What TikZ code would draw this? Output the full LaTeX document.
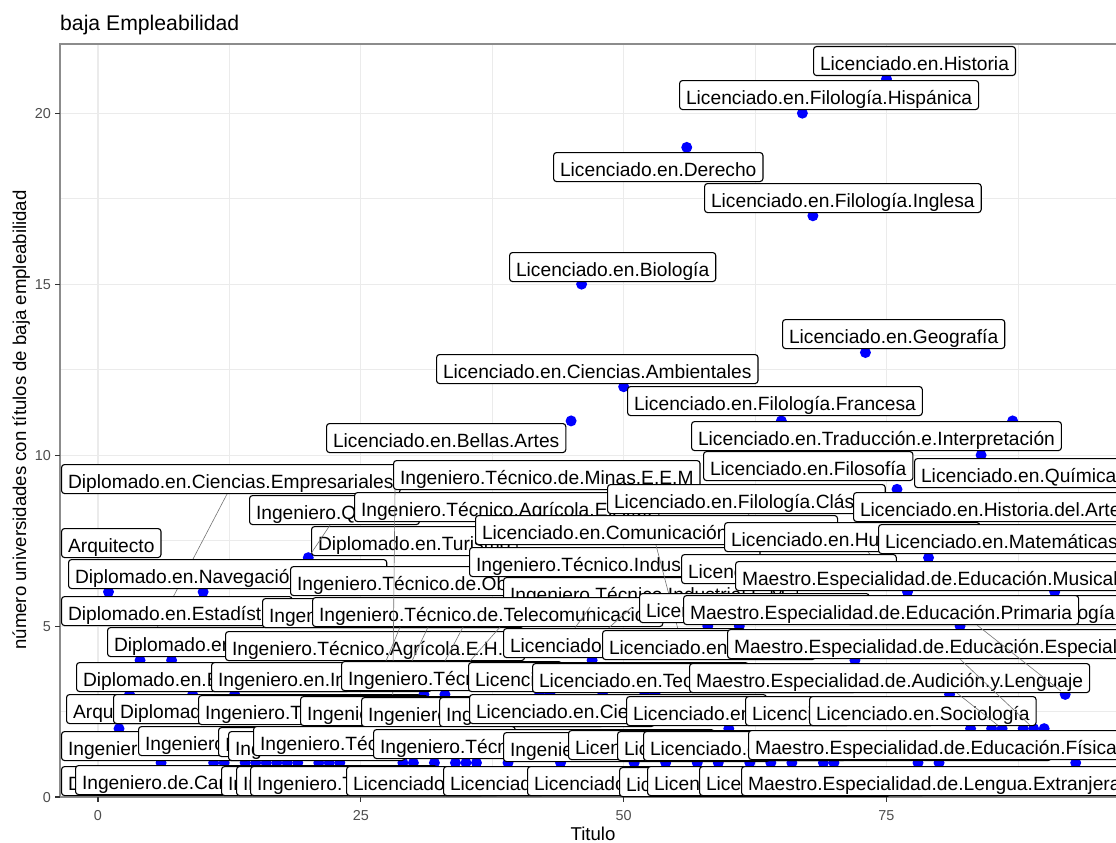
\documentclass[tikz,border=0pt]{standalone}
\usepackage{fontspec}
\setmainfont{Liberation Sans}
\definecolor{gridc}{HTML}{EBEBEB}
\definecolor{tickc}{HTML}{4D4D4D}
\definecolor{bordc}{HTML}{333333}
\definecolor{panelb}{HTML}{8C8C8C}
\begin{document}
\begin{tikzpicture}[x=1pt,y=-1pt,
 lbl/.style={draw=black,fill=white,line width=1.1pt,rounded corners=3pt,anchor=north west,inner xsep=6.5pt,inner ysep=0pt,text height=24pt,text depth=5pt,font=\fontsize{19.2}{22}\selectfont},
 lblr/.style={lbl,anchor=north east},
 dotst/.style={circle,fill=blue,draw=none,inner sep=0pt,minimum size=11pt},
 seg/.style={draw=black!55,line width=0.6pt},
 gmaj/.style={draw=gridc,line width=1.1pt},
 gmin/.style={draw=gridc,line width=0.55pt},
 ticklab/.style={text=tickc,font=\fontsize{14.4}{16}\selectfont,inner sep=0pt},
 axtitle/.style={font=\fontsize{18.6}{21}\selectfont,inner sep=0pt}
]
\useasboundingbox (0,0) rectangle (1116,843);
\clip (0,0) rectangle (1116,843);
% grid
\begin{scope}
\clip (60,44) rectangle (1126,797);
\foreach \v in {2.5,7.5,12.5,17.5} \draw[gmin] (60,{797-34.19*\v}) -- (1126,{797-34.19*\v});
\foreach \v in {12.5,37.5,62.5,87.5} \draw[gmin] ({98+10.513*\v},44) -- ({98+10.513*\v},797);
\foreach \v in {0,5,10,15,20} \draw[gmaj] (60,{797-34.19*\v}) -- (1126,{797-34.19*\v});
\foreach \v in {0,25,50,75} \draw[gmaj] ({98+10.513*\v},44) -- ({98+10.513*\v},797);
\end{scope}
% panel border and ticks
\draw[panelb,line width=1.1pt] (60,44) rectangle (1126,797);
\foreach \v in {0,5,10,15,20} \draw[bordc,line width=1.1pt] (55,{797-34.19*\v}) -- (60,{797-34.19*\v});
\foreach \v in {0,25,50,75} \draw[bordc,line width=1.1pt] ({98+10.513*\v},797) -- ({98+10.513*\v},802);
% axis texts
\foreach \v in {0,5,10,15,20} \node[ticklab,anchor=east,text height=10pt,text depth=0pt] (ty\v) at (51,{797-34.19*\v}) {\v};
\foreach \v in {0,25,50,75} \node[ticklab,anchor=base] (tx\v) at ({98+10.513*\v},820) {\v};
\node[axtitle,anchor=base] (xtitle) at (593,840) {Titulo};
\node[axtitle,anchor=base,rotate=90] (ytitle) at (26,420) {número universidades con títulos de baja empleabilidad};
\node[font=\fontsize{21.2}{24}\selectfont,anchor=base west,inner sep=0pt] (title) at (60,31) {baja Empleabilidad};
% points
\foreach \a/\b in {75/21,67/20,56/19,68/17,46/15,73/13,50/12,45/11,65/11,87/11,84/10,76/9,20/7,79/7,1/6,10/6,77/6,91/6,58/5,61/5,82/5,4/4,7/4,47/4,72/4,3/3,9/3,13/3,31/3,33/3,42/3,43/3,48/3,52/3,53/3,81/3,92/3,2/2,28/2,60/2,83/2,85/2,86/2,88/2,89/2,90/2,6/1,11/1,12/1,14/1,15/1,16/1,17/1,18/1,19/1,21/1,22/1,23/1,29/1,30/1,32/1,34/1,35/1,36/1,39/1,44/1,51/1,54/1,57/1,59/1,62/1,64/1,66/1,69/1,70/1,78/1,80/1,93/1}
  \node[dotst] (p\a-\b) at ({98+10.513*\a},{797-34.19*\b}) {};
% ---- Arquitecto / Diplomado labels
\node[lbl] (C1) at (61,528) {Arquitecto};
\node[lbl] (G1) at (66,694) {Arquitecto.Técnico};
\node[lbl] (F1) at (76,662) {Diplomado.en.Biblioteconomía};
\node[lbl] (B1) at (61,464) {Diplomado.en.Ciencias.Empresariales};
\draw[seg] ([xshift=166pt]B1.south west) -- (p4-4);
\node[lbl] (I1) at (61,766) {Diplomado.en.Educación.Social};
\node[lbl] (D7) at (61,596) {Diplomado.en.Estadística};
\node[lbl] (E1) at (107,627) {Diplomado.en.Gestión.y.Administración.Pública};
\node[lbl] (D1) at (68,559) {Diplomado.en.Navegación.Marítima};
\node[lbl] (G2) at (113,694) {Diplomado.en.Óptica.y.Optometría};
\node[lbl] (C2) at (311,526) {Diplomado.en.Turismo};
% ---- Ingeniero labels
\node[lbl] (B6) at (249,495) {Ingeniero.Químico};
\draw[seg] ([xshift=81pt]B6.south west) -- (p20-7);
\node[lbl] (B7) at (354,492) {Ingeniero.Técnico.Agrícola.E.A.M.};
\node[lbl] (B2) at (393,460) {Ingeniero.Técnico.de.Minas.E.E.M};
\node[lbl] (D2) at (290,566) {Ingeniero.Técnico.de.Obras.Públicas};
\node[lbl] (D3) at (469,547) {Ingeniero.Técnico.Industrial.E.E.};
\node[lbl] (D6) at (503,577) {Ingeniero.Técnico.Industrial.E.M.};
\node[lbl] (D8) at (262,598) {Ingeniero.Técnico.Forestal};
\node[lbl] (D9) at (312,597) {Ingeniero.Técnico.de.Telecomunicación};
\coordinate (q1) at (559,650);
\coordinate (q2) at (584,650);
\draw[seg] ([xshift=87pt]D6.south west) -- (q1);
\draw[seg] ([xshift=129pt]D6.south west) -- (q2);
\node[lbl] (E2) at (225,631) {Ingeniero.Técnico.Agrícola.E.H.J.};
\coordinate (q3) at (386,661);
\coordinate (q4) at (412,661);
\coordinate (q5) at (445,661);
\coordinate (q6) at (470,661);
\draw[seg] ([xshift=88pt]D9.south west) -- (q3);
\draw[seg] ([xshift=116pt]D9.south west) -- (q4);
\draw[seg] ([xshift=151pt]D9.south west) -- (q5);
\draw[seg] ([xshift=188pt]D9.south west) -- (q6);
\draw[seg] ([xshift=2pt]B2.south west) -- (p28-2);
\node[lbl] (F2) at (211,662) {Ingeniero.en.Informática};
\node[lbl] (F3) at (341,661) {Ingeniero.Técnico.Naval};
\node[lbl] (G3) at (198,695) {Ingeniero.Técnico.Minero};
\node[lbl] (G4) at (300,696) {Ingeniero.Técnico.Topógrafo};
\node[lbl] (G5) at (361,697) {Ingeniero.Técnico.Químico};
\node[lbl] (G6) at (439,697) {Ingeniero.Técnico.Textil};
\node[lbl] (H1) at (61,731) {Ingeniero.de.Montes};
\node[lbl] (H2) at (138,726) {Ingeniero.de.Minas};
\node[lbl] (H3) at (218,727) {Ingeniero.Geólogo};
\node[lbl] (H4) at (228,731) {Ingeniero.Industrial};
\node[lbl] (H5) at (253,726) {Ingeniero.Técnico.Topografía};
\node[lbl] (H6) at (373,729) {Ingeniero.Técnico.en.Diseño.Industrial};
\node[lbl] (H7) at (503,732) {Ingeniero.Técnico.Electrónico};
\node[lbl] (I2) at (75,765) {Ingeniero.de.Caminos.Canales.y.Puertos};
\node[lbl] (I3) at (221,766) {Ingeniero.de.Telecomunicación};
\node[lbl] (I4) at (236,766) {Ingeniero.Naval.y.Oceánico};
\node[lbl] (I5) at (250,766) {Ingeniero.Técnico.Agrícola.E.I.A.};
% ---- Licenciado labels
\node[lbl] (A1) at (813,46) {Licenciado.en.Historia};
\node[lbl] (A2) at (679,80) {Licenciado.en.Filología.Hispánica};
\node[lbl] (A3) at (553,152) {Licenciado.en.Derecho};
\node[lbl] (A4) at (704,183) {Licenciado.en.Filología.Inglesa};
\node[lbl] (A5) at (509,252) {Licenciado.en.Biología};
\node[lbl] (A6) at (782,319) {Licenciado.en.Geografía};
\node[lbl] (A7) at (436,354) {Licenciado.en.Ciencias.Ambientales};
\node[lbl] (A8) at (627,386) {Licenciado.en.Filología.Francesa};
\node[lbl] (A9) at (326,423) {Licenciado.en.Bellas.Artes};
\node[lbl] (A10) at (691,421) {Licenciado.en.Traducción.e.Interpretación};
\node[lbl] (B3) at (703,451) {Licenciado.en.Filosofía};
\node[lbl] (B4) at (914,458) {Licenciado.en.Química};
\node[lbl] (B5) at (607,484) {Licenciado.en.Filología.Clásica};
\coordinate (q7) at (770,532);
\draw[seg] ([xshift=141pt]B5.south west) -- (q7);
\node[lbl] (B8) at (853,492) {Licenciado.en.Historia.del.Arte};
\node[lbl] (C3) at (475,515) {Licenciado.en.Comunicación.Audiovisual};
\coordinate (q8) at (680,637);
\draw[seg] ([xshift=181pt]C3.south west) -- (q8);
\node[lbl] (C4) at (724,522) {Licenciado.en.Humanidades};
\draw[seg] ([xshift=144pt]C4.south west) -- (p77-6);
\node[lbl] (C5) at (878,524) {Licenciado.en.Matemáticas};
\node[lbl] (D4) at (681,554) {Licenciado.en.Geología};
\node[lbl] (D10) at (639,593) {Licenciado.en.Pedagogía};
\node[lblr] (D11) at (1122,595) {Licenciado.en.Psicopedagogía};
\node[lbl] (E3) at (503,628) {Licenciado.en.Odontología};
\node[lbl] (E4) at (602,630) {Licenciado.en.Enología};
\node[lbl] (F4) at (468,662) {Licenciado.en.Ciencias.del.Mar};
\node[lbl] (F5) at (532,663) {Licenciado.en.Teoría.de.la.Literatura};
\node[lbl] (G7) at (469,694) {Licenciado.en.Ciencias.Químicas};
\node[lbl] (G8) at (626,696) {Licenciado.en.Economía};
\node[lbl] (G9) at (745,696) {Licenciado.en.Física};
\node[lbl] (G10) at (809,696) {Licenciado.en.Sociología};
\node[lbl] (H8) at (568,730) {Licenciado.en.Farmacia};
\node[lbl] (H9) at (617,731) {Licenciado.en.Lingüística};
\node[lbl] (H10) at (643,731) {Licenciado.en.Historia.y.Ciencias.de.la.Música};
\node[lbl] (I6) at (346,766) {Licenciado.en.Ciencias.Físicas};
\node[lbl] (I7) at (443,766) {Licenciado.en.Ciencias.Políticas};
\node[lbl] (I8) at (527,766) {Licenciado.en.Antropología};
\node[lbl] (I9) at (619,767) {Licenciado.en.Documentación};
\node[lbl] (I10) at (647,766) {Licenciado.en.Estudios.de.Asia.Oriental};
\node[lbl] (I11) at (699,766) {Licenciado.en.Psicología};
% ---- Maestro labels
\node[lbl] (F6) at (689,663) {Maestro.Especialidad.de.Audición.y.Lenguaje};
\draw[seg] ([xshift=268pt]F6.south west) -- (p86-2);
\node[lbl] (E5) at (727,629) {Maestro.Especialidad.de.Educación.Especial};
\draw[seg] ([xshift=233pt]E5.south west) -- (p89-2);
\node[lbl] (H11) at (748,730) {Maestro.Especialidad.de.Educación.Física};
\node[lbl] (D5) at (735,561) {Maestro.Especialidad.de.Educación.Musical};
\node[lbl] (D12) at (683,595) {Maestro.Especialidad.de.Educación.Primaria};
\draw[seg] ([xshift=294pt]D12.south west) -- (p92-3);
\node[lbl] (I12) at (741,766) {Maestro.Especialidad.de.Lengua.Extranjera};
\end{tikzpicture}
\end{document}
